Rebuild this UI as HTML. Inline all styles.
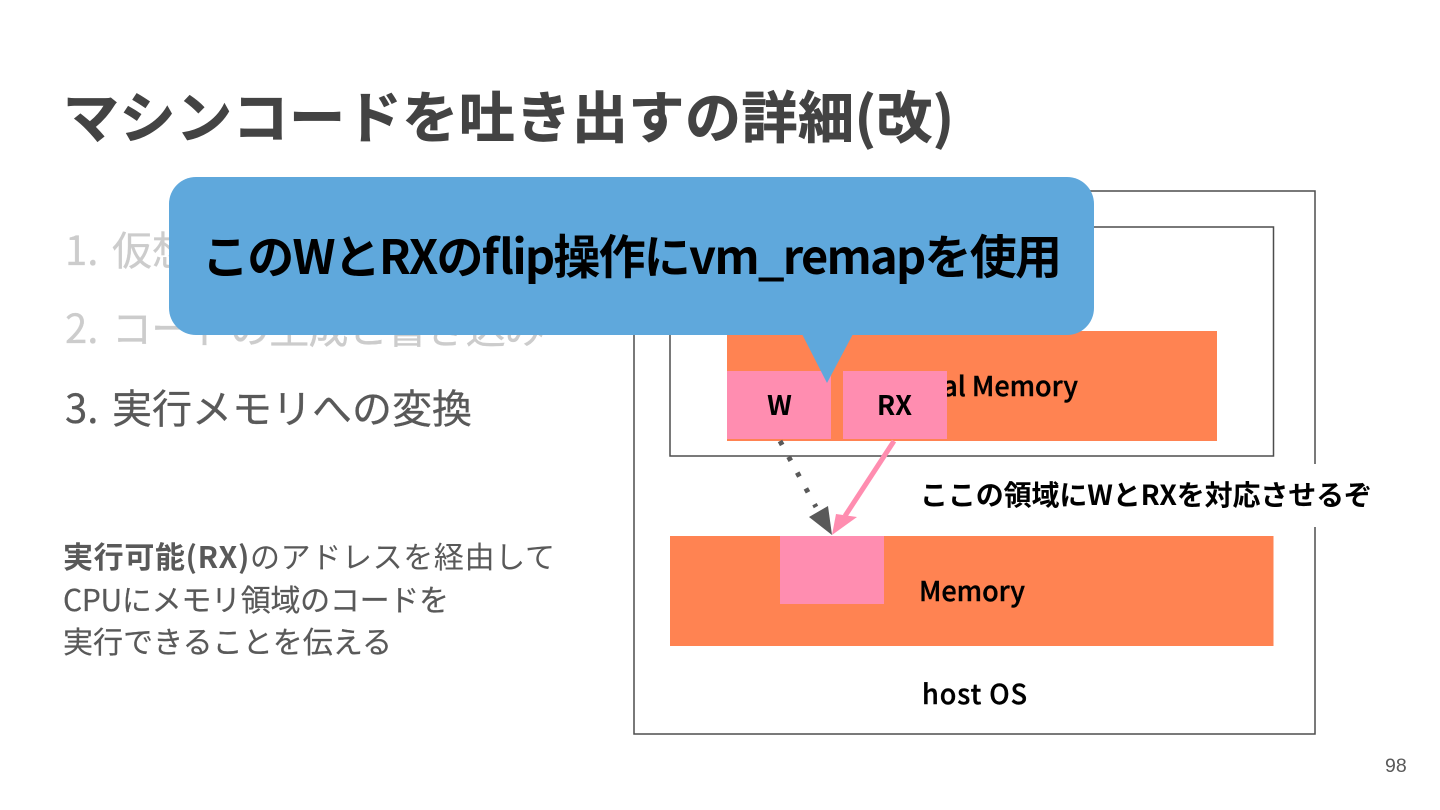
<!DOCTYPE html>
<html lang="ja">
<head>
<meta charset="utf-8">
<style>
html,body{margin:0;padding:0;background:#fff;width:1440px;height:810px;overflow:hidden}
svg{display:block}
text{font-family:"Noto Sans CJK JP","Liberation Sans",sans-serif}
</style>
</head>
<body>
<svg width="1440" height="810" viewBox="0 0 1440 810" xmlns="http://www.w3.org/2000/svg">
<rect width="1440" height="810" fill="#fff"/>

<text x="63" y="138" font-size="56" font-weight="700" fill="#434343" stroke="#434343" stroke-width=".7" textLength="891">マシンコードを吐き出すの詳細(改)</text>

<text y="265" font-size="40" fill="#cccccc" stroke="#cccccc" stroke-width=".3"><tspan x="65">1.</tspan><tspan x="112">仮想メモリの確保</tspan></text>
<text x="65" y="343" font-size="40" fill="#cccccc" stroke="#cccccc" stroke-width=".3">2.</text>
<text x="112" y="343" font-size="40" fill="#cccccc" stroke="#cccccc" stroke-width=".3" textLength="433">コードの生成と書き込み</text>
<text y="423" font-size="40" fill="#595959" stroke="#595959" stroke-width=".3"><tspan x="65">3.</tspan><tspan x="112">実行メモリへの変換</tspan></text>

<text x="63" y="568" font-size="30" fill="#595959" textLength="492"><tspan font-weight="700">実行可能(RX)</tspan>のアドレスを経由して</text>
<text x="63" y="611" font-size="30" fill="#595959" stroke="#595959" stroke-width=".2" textLength="386">CPUにメモリ領域のコードを</text>
<text x="63" y="653" font-size="30" fill="#595959" stroke="#595959" stroke-width=".2" textLength="329">実行できることを伝える</text>

<rect x="634" y="191" width="681" height="543" fill="#fff" stroke="#4d4d4d" stroke-width="1.5"/>
<rect x="670" y="227" width="603.5" height="229" fill="#fff" stroke="#4d4d4d" stroke-width="1.5"/>
<rect x="1300" y="464" width="30" height="63" fill="#fff"/>

<rect x="727" y="331" width="490" height="110" fill="#ff8352"/>
<text x="1078" y="396" font-size="27" font-weight="500" fill="#000" stroke="#000" stroke-width=".4" text-anchor="end">Virtual Memory</text>
<rect x="727" y="371" width="104" height="68" fill="#ff8db0"/>
<rect x="843" y="371" width="104" height="68" fill="#ff8db0"/>
<text x="779.5" y="415" font-size="27" font-weight="700" fill="#000" text-anchor="middle">W</text>
<text x="894.5" y="415" font-size="27" font-weight="700" fill="#000" text-anchor="middle">RX</text>

<rect x="670" y="536" width="603.5" height="110" fill="#ff8352"/>
<rect x="780" y="536" width="104" height="68" fill="#ff8db0"/>
<text x="919" y="601" font-size="27" font-weight="500" fill="#000" stroke="#000" stroke-width=".4" textLength="106">Memory</text>
<text x="922" y="704" font-size="27" font-weight="500" fill="#000" stroke="#000" stroke-width=".4" textLength="105">host OS</text>
<text x="920" y="505" font-size="28" font-weight="700" fill="#000" textLength="452">ここの領域にWとRXを対応させるぞ</text>

<line x1="780" y1="441" x2="816" y2="507" stroke="#595959" stroke-width="5" stroke-dasharray="4.5 13.5"/>
<polygon points="832,535 809,517 828,506" fill="#595959"/>
<line x1="894" y1="441" x2="845" y2="516" stroke="#ff8db0" stroke-width="5"/>
<polygon points="832,535 836,514 857,517" fill="#ff8db0"/>

<rect x="169" y="177" width="925" height="158" rx="27" ry="27" fill="#5fa8dc"/>
<polygon points="802,334 853,334 827,383" fill="#5fa8dc"/>
<text x="202" y="274" font-size="47" font-weight="700" fill="#000" textLength="860">このWとRXのﬂip操作にvm_remapを使用</text>

<text x="1385" y="772" font-size="19.5" fill="#595959" style="font-family:'Liberation Sans',sans-serif">98</text>
</svg>
</body>
</html>
